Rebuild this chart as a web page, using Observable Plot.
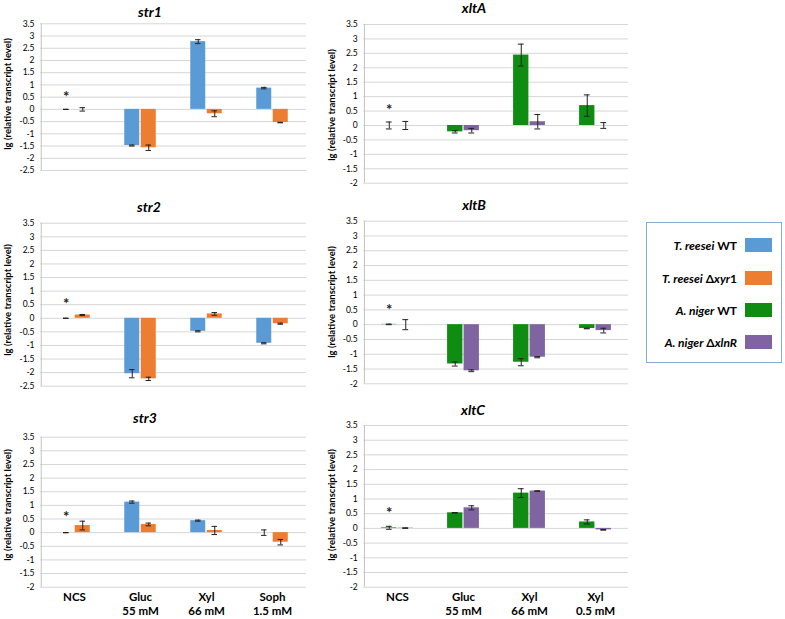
<!DOCTYPE html>
<html><head><meta charset="utf-8">
<script src="https://cdn.jsdelivr.net/npm/d3@7"></script>
<script src="https://cdn.jsdelivr.net/npm/@observablehq/plot@0.6"></script>
<style>
body{margin:0;width:785px;height:619px;background:#fff;position:relative;overflow:hidden;font-family:Lato,"Open Sans",sans-serif;}
.t{position:absolute;transform:translate(-50%,-50%);font-weight:bold;font-style:italic;font-size:14px;white-space:nowrap;color:#000;}
.yl{position:absolute;transform:translate(-50%,-50%) rotate(-90deg);font-weight:bold;font-size:9.5px;white-space:nowrap;color:#000;}
#legend{position:absolute;left:646px;top:222px;width:136px;height:141px;border:1.5px solid #86abd3;box-sizing:border-box;}
.lr{position:absolute;left:0;width:136px;height:16px;}
.lr span.tx{position:absolute;right:46px;top:50%;transform:translateY(-50%);font-weight:bold;font-size:12px;white-space:nowrap;}
.lr span.sw{position:absolute;left:98px;top:1px;width:27px;height:14px;}
</style></head>
<body>
<div id="root"></div>
<script>
// categories
const catsStr = ["NCS", "Gluc\n55 mM", "Xyl\n66 mM", "Soph\n1.5 mM"];
const catsXlt = ["NCS", "Gluc\n55 mM", "Xyl\n66 mM", "Xyl\n0.5 mM"];
// series names
const seriesStr = ["T. reesei WT", "T. reesei \u0394xyr1"];
const seriesXlt = ["A. niger WT", "A. niger \u0394xlnR"];
const colors = ["#5b9bd5", "#ed7d31", "#0f8c12", "#8064a2"];
// values (lg relative transcript level) and error bars
const str1WT = [0, -1.48, 2.77, 0.87];
const str1WTerr = [0.005, 0.02, 0.08, 0.03];
const str1D = [0, -1.57, -0.18, -0.54];
const str1Derr = [0.07, 0.11, 0.12, 0.01];
const str2WT = [0, -2.04, -0.48, -0.92];
const str2WTerr = [0.005, 0.15, 0.02, 0.02];
const str2D = [0.12, -2.23, 0.16, -0.2];
const str2Derr = [0.02, 0.06, 0.05, 0.02];
const str3WT = [0, 1.12, 0.44, 0];
const str3WTerr = [0.005, 0.04, 0.02, 0.1];
const str3D = [0.26, 0.3, 0.08, -0.35];
const str3Derr = [0.16, 0.05, 0.15, 0.1];
const xltAWT = [0, -0.22, 2.44, 0.69];
const xltAWTerr = [0.12, 0.04, 0.38, 0.37];
const xltAD = [0, -0.18, 0.13, 0];
const xltADerr = [0.14, 0.08, 0.25, 0.1];
const xltBWT = [0.01, -1.33, -1.27, -0.13];
const xltBWTerr = [0.01, 0.07, 0.12, 0.01];
const xltBD = [0, -1.56, -1.1, -0.2];
const xltBDerr = [0.17, 0.03, 0.02, 0.08];
const xltCWT = [0.02, 0.53, 1.2, 0.22];
const xltCWTerr = [0.05, 0.01, 0.15, 0.07];
const xltCD = [0.01, 0.7, 1.27, -0.05];
const xltCDerr = [0.01, 0.07, 0.01, 0.01];
// significance star (NCS) heights
const starY = {str1: 0.65, str2: 0.68, str3: 0.72, xltA: 0.66, xltB: 0.64, xltC: 0.66};
const yMax = 3.5;

const root = document.getElementById("root");
const W = 785, H = 619;

function panel(o) {
  const rows = o.cats.map((c, i) => ({cat: c, a: o.a[i], ae: o.ae[i], b: o.b[i], be: o.be[i]}));
  const band = (o.x2 - o.x1) / 4, half = band / 2, bw = 15.5, gap = 0.5, cap = 3;
  const offA = -(bw / 2 + gap), offB = bw / 2 + gap;
  const ticks = d3.range(o.ymin, yMax + 0.001, 0.5);
  const marks = [
    Plot.gridY(ticks, {stroke: "#d6d6d6", strokeOpacity: 1}),
    Plot.ruleX([o.cats[0]], {x: d => d, dx: -half, y1: o.ymin, y2: yMax, stroke: "#c2c2c2"}),
    Plot.barY(rows, {x: "cat", y: "a", fill: o.colA, insetLeft: half - bw - gap, insetRight: half + gap}),
    Plot.barY(rows, {x: "cat", y: "b", fill: o.colB, insetLeft: half + gap, insetRight: half - bw - gap}),
    Plot.ruleX(rows, {x: "cat", y1: d => d.a - d.ae, y2: d => d.a + d.ae, dx: offA, stroke: "#222", strokeWidth: 1}),
    Plot.ruleX(rows, {x: "cat", y1: d => d.b - d.be, y2: d => d.b + d.be, dx: offB, stroke: "#222", strokeWidth: 1}),
    Plot.tickY(rows, {x: "cat", y: d => d.a + d.ae, insetLeft: half + offA - cap, insetRight: half - offA - cap, stroke: "#222"}),
    Plot.tickY(rows, {x: "cat", y: d => d.a - d.ae, insetLeft: half + offA - cap, insetRight: half - offA - cap, stroke: "#222"}),
    Plot.tickY(rows, {x: "cat", y: d => d.b + d.be, insetLeft: half + offB - cap, insetRight: half - offB - cap, stroke: "#222"}),
    Plot.tickY(rows, {x: "cat", y: d => d.b - d.be, insetLeft: half + offB - cap, insetRight: half - offB - cap, stroke: "#222"}),
    Plot.text([o.star], {x: () => o.cats[0], y: d => d, text: () => "*", dx: offA, dy: 4, fontSize: 15, fontWeight: "bold", fill: "#222"}),
    Plot.axisY({ticks, tickSize: 0, tickPadding: 6, tickFormat: d => String(d), fontSize: 8.5, label: null})
  ];
  if (o.bottom) marks.push(Plot.axisX({tickSize: 0, tickPadding: 4, fontSize: 11.5, fontWeight: "bold", lineHeight: 1.2, label: null, fill: "#000"}));
  const svg = Plot.plot({
    width: W, height: H,
    marginLeft: o.x1, marginRight: W - o.x2, marginTop: o.y1, marginBottom: H - o.y2,
    style: {background: "transparent", fontFamily: "Lato, 'Open Sans', sans-serif", color: "#000"},
    x: {type: "band", domain: o.cats, padding: 0, axis: null},
    y: {domain: [o.ymin, yMax], axis: null},
    marks
  });
  svg.style.position = "absolute";
  svg.style.left = "0px";
  svg.style.top = "0px";
  svg.style.pointerEvents = "none";
  root.appendChild(svg);
}

function label(cls, text, x, y) {
  const d = document.createElement("div");
  d.className = cls; d.textContent = text;
  d.style.left = x + "px"; d.style.top = y + "px";
  root.appendChild(d);
}

const ylab = "lg (relative transcript level)";
const L = {x1: 40, x2: 306}, R = {x1: 363.3, x2: 628};
panel({...L, y1: 23.3, y2: 170, ymin: -2.5, cats: catsStr, a: str1WT, ae: str1WTerr, b: str1D, be: str1Derr, colA: colors[0], colB: colors[1], star: starY.str1});
panel({...L, y1: 222.7, y2: 385.7, ymin: -2.5, cats: catsStr, a: str2WT, ae: str2WTerr, b: str2D, be: str2Derr, colA: colors[0], colB: colors[1], star: starY.str2});
panel({...L, y1: 436.7, y2: 586.7, ymin: -2, cats: catsStr, a: str3WT, ae: str3WTerr, b: str3D, be: str3Derr, colA: colors[0], colB: colors[1], star: starY.str3, bottom: true});
panel({...R, y1: 24, y2: 182.7, ymin: -2, cats: catsXlt, a: xltAWT, ae: xltAWTerr, b: xltAD, be: xltADerr, colA: colors[2], colB: colors[3], star: starY.xltA});
panel({...R, y1: 220.7, y2: 383.3, ymin: -2, cats: catsXlt, a: xltBWT, ae: xltBWTerr, b: xltBD, be: xltBDerr, colA: colors[2], colB: colors[3], star: starY.xltB});
panel({...R, y1: 425, y2: 586.7, ymin: -2, cats: catsXlt, a: xltCWT, ae: xltCWTerr, b: xltCD, be: xltCDerr, colA: colors[2], colB: colors[3], star: starY.xltC, bottom: true});

label("t", "str1", 150, 10.5);
label("t", "str2", 149, 205.5);
label("t", "str3", 145, 417);
label("t", "xltA", 474, 7);
label("t", "xltB", 474, 203.5);
label("t", "xltC", 473, 408.5);
label("yl", ylab, 7, 94);
label("yl", ylab, 7, 300);
label("yl", ylab, 7, 505);
label("yl", ylab, 331, 104.5);
label("yl", ylab, 331, 301.5);
label("yl", ylab, 331, 505);

// legend
const legend = document.createElement("div");
legend.id = "legend";
const legendHTML = [
  "<i>T. reesei</i> WT",
  "<i>T. reesei</i> \u0394<i>xyr</i>1",
  "<i>A. niger</i> WT",
  "<i>A. niger</i> \u0394<i>xlnR</i>"
];
const rowY = [245.7, 278.7, 310, 342.7];
legendHTML.forEach((h, i) => {
  const r = document.createElement("div");
  r.className = "lr";
  r.style.top = (rowY[i] - 222 - 8 - 1.5) + "px";
  r.innerHTML = `<span class="tx">${h}</span><span class="sw" style="background:${colors[i]}"></span>`;
  legend.appendChild(r);
});
root.appendChild(legend);
</script>
</body></html>
